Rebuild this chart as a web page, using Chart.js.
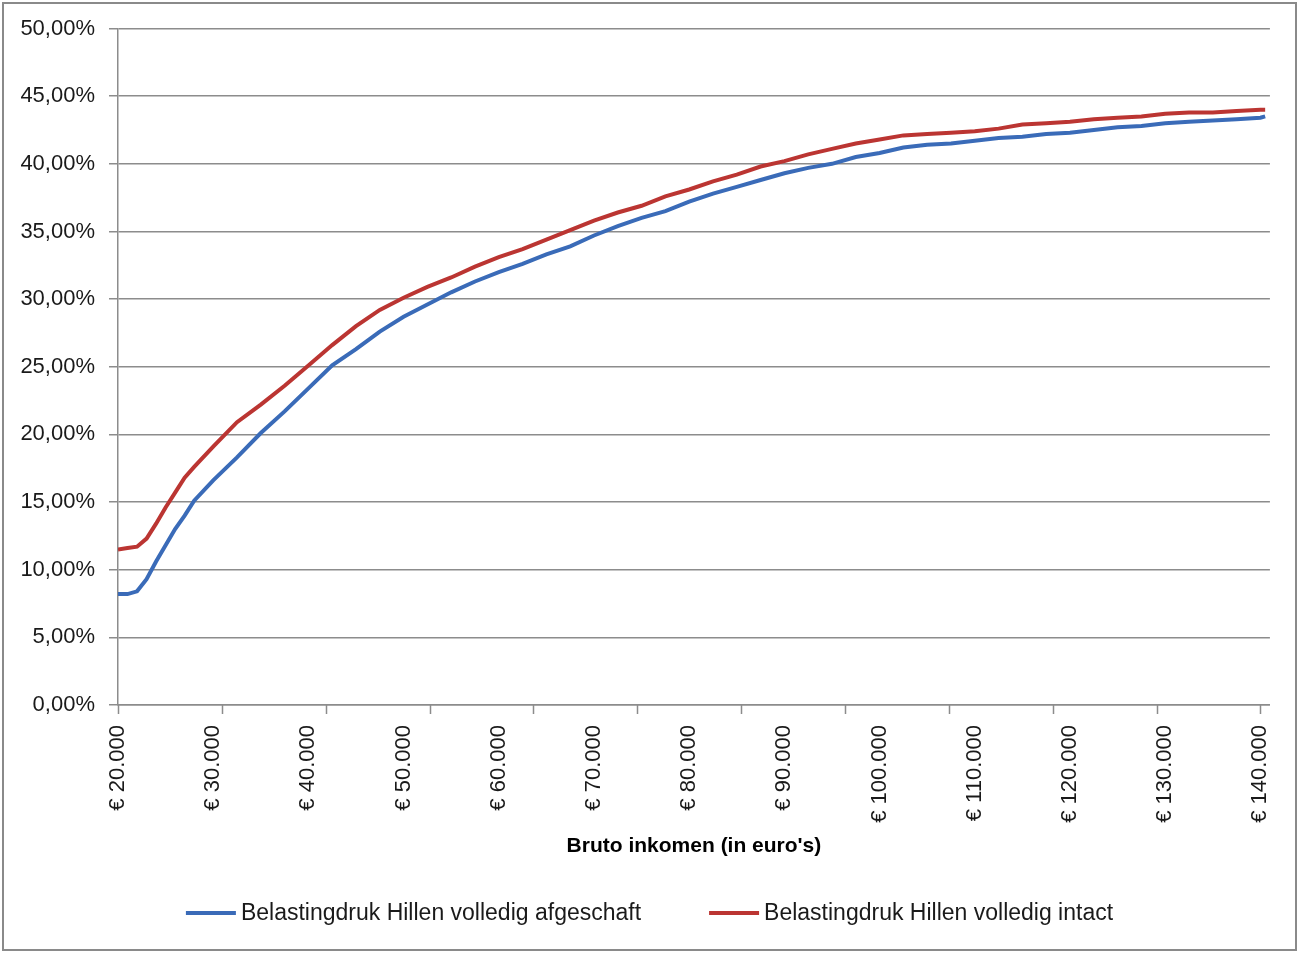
<!DOCTYPE html>
<html>
<head>
<meta charset="utf-8">
<script src="https://cdn.jsdelivr.net/npm/chart.js@4.4.1/dist/chart.umd.min.js"></script>
<style>
html, body { margin: 0; padding: 0; background: #fff; }
canvas { display: block; }
</style>
</head>
<body>
<canvas id="chart" width="1299" height="953"></canvas>
<script>
// bruto inkomen (euro)
const incomes = [
	20000, 21000, 22000, 23000, 24000, 25000, 26000, 27000, 28000,
	30000, 32500, 35000, 37500, 40000, 42500, 45000, 47500, 50000,
	52500, 55000, 57500, 60000, 62500, 65000, 67500, 70000, 72500,
	75000, 77500, 80000, 82500, 85000, 87500, 90000, 92500, 95000,
	97500, 100000, 102500, 105000, 107500, 110000, 112500, 115000, 117500,
	120000, 122500, 125000, 127500, 130000, 132500, 135000, 137500, 140000, 140500
];

// belastingdruk in %
const afgeschaft = [
	8.2, 8.2, 8.4, 9.3, 10.6, 11.8, 13.0, 14.0, 15.1,
	16.6, 18.3, 20.1, 21.7, 23.4, 25.1, 26.3, 27.6, 28.7,
	29.6, 30.5, 31.3, 32.0, 32.6, 33.3, 33.9, 34.7, 35.4,
	36.0, 36.5, 37.2, 37.8, 38.3, 38.8, 39.3, 39.7, 40.0,
	40.5, 40.8, 41.2, 41.4, 41.5, 41.7, 41.9, 42.0, 42.2,
	42.3, 42.5, 42.7, 42.8, 43.0, 43.1, 43.2, 43.3, 43.4, 43.5
];
const intact = [
	11.5, 11.6, 11.7, 12.3, 13.4, 14.6, 15.7, 16.8, 17.6,
	19.1, 20.9, 22.2, 23.6, 25.1, 26.6, 28.0, 29.2, 30.1,
	30.9, 31.6, 32.4, 33.1, 33.7, 34.4, 35.1, 35.8, 36.4,
	36.9, 37.6, 38.1, 38.7, 39.2, 39.8, 40.2, 40.7, 41.1,
	41.5, 41.8, 42.1, 42.2, 42.3, 42.4, 42.6, 42.9, 43.0,
	43.1, 43.3, 43.4, 43.5, 43.7, 43.8, 43.8, 43.9, 44.0, 44.0
];

// labels on the x axis
const xTickValues = [20000, 30000, 40000, 50000, 60000, 70000, 80000, 90000, 100000, 110000, 120000, 130000, 140000];

const seriesLabels = ["Belastingdruk Hillen volledig afgeschaft", "Belastingdruk Hillen volledig intact"];
const xTitle = "Bruto inkomen (in euro's)";

const blue = "#3a6bb8";
const red = "#bb3532";
const gridColor = "#8c8c8c";
const fontFamily = '"Liberation Sans", Arial, sans-serif';

var points = (vals) => incomes.map((x, i) => ({ x: x, y: vals[i] }));

var euro = (v) => "€ " + String(Math.round(v)).replace(/\B(?=(\d{3})+(?!\d))/g, ".");

// grey frame round the whole picture
const frame = {
	id: "frame",
	beforeDraw(chart) {
		const ctx = chart.ctx;
		ctx.save();
		ctx.fillStyle = "#fff";
		ctx.fillRect(0, 0, chart.width, chart.height);
		ctx.strokeStyle = "#8a8a8a";
		ctx.lineWidth = 2;
		ctx.strokeRect(3, 3, chart.width - 6, chart.height - 6);
		ctx.restore();
	}
};

// excel puts its tick marks on a different interval than the labels
const tickMarkStep = 10910;
const tickMarks = {
	id: "tickMarks",
	afterDraw(chart) {
		const xs = chart.scales.x;
		const ctx = chart.ctx;
		ctx.save();
		ctx.strokeStyle = gridColor;
		ctx.lineWidth = 1.5;
		ctx.beginPath();
		for (let v = xs.min; v <= xs.max; v += tickMarkStep) {
			const px = Math.round(xs.getPixelForValue(v)) + 0.5;
			ctx.moveTo(px, xs.top);
			ctx.lineTo(px, xs.top + 9);
		}
		ctx.stroke();
		ctx.restore();
	}
};

// legend with long line samples, spaced like the original
const lineLegend = {
	id: "lineLegend",
	afterDraw(chart) {
		const ctx = chart.ctx;
		const y = chart.height - 40;
		const sample = 50, textGap = 5, itemGap = 68;
		ctx.save();
		ctx.font = "23px " + fontFamily;
		ctx.textBaseline = "middle";
		const items = chart.data.datasets.map(ds => ({
			text: ds.label,
			color: ds.borderColor,
			w: sample + textGap + ctx.measureText(ds.label).width
		}));
		const total = items.reduce((s, it) => s + it.w, 0) + itemGap * (items.length - 1);
		let x = (chart.width - total) / 2;
		for (const it of items) {
			ctx.strokeStyle = it.color;
			ctx.lineWidth = 4;
			ctx.beginPath();
			ctx.moveTo(x, y);
			ctx.lineTo(x + sample, y);
			ctx.stroke();
			ctx.fillStyle = "#1a1a1a";
			ctx.fillText(it.text, x + sample + textGap, y + 1);
			x += it.w + itemGap;
		}
		ctx.restore();
	}
};

new Chart("chart", {
	type: "line",
	data: {
		datasets: [
			{
				label: seriesLabels[0],
				data: points(afgeschaft),
				borderColor: blue,
				backgroundColor: blue,
				borderWidth: 4,
				pointRadius: 0,
				tension: 0
			},
			{
				label: seriesLabels[1],
				data: points(intact),
				borderColor: red,
				backgroundColor: red,
				borderWidth: 4,
				pointRadius: 0,
				tension: 0
			}
		]
	},
	options: {
		responsive: false,
		animation: false,
		devicePixelRatio: 1,
		layout: {
			padding: { left: 0, right: 25, top: 28.5, bottom: 85 }
		},
		plugins: {
			legend: { display: false },
			tooltip: { enabled: false }
		},
		scales: {
			x: {
				type: "linear",
				min: 20000,
				max: 141000,
				afterBuildTicks(scale) { scale.ticks = xTickValues.map(v => ({ value: v })); },
				afterFit(scale) { scale.height = 163; },
				grid: { display: false },
				border: { display: true, color: gridColor, width: 1.5 },
				ticks: {
					autoSkip: false,
					minRotation: 90,
					maxRotation: 90,
					padding: 12,
					color: "#1a1a1a",
					font: { family: fontFamily, size: 22 },
					callback: (v) => euro(v)
				},
				title: {
					display: true,
					text: xTitle,
					color: "#000",
					font: { family: fontFamily, size: 21, weight: "bold" },
					padding: { top: 0, bottom: 9 }
				}
			},
			y: {
				min: 0,
				max: 50,
				afterFit(scale) { scale.width = 118; },
				grid: { color: gridColor, lineWidth: 1.5, tickLength: 9 },
				border: { display: true, color: gridColor, width: 1.5 },
				ticks: {
					stepSize: 5,
					padding: 14,
					color: "#1a1a1a",
					font: { family: fontFamily, size: 22 },
					callback: (v) => v.toFixed(2).replace(".", ",") + "%"
				}
			}
		}
	},
	plugins: [frame, tickMarks, lineLegend]
});
</script>
</body>
</html>
